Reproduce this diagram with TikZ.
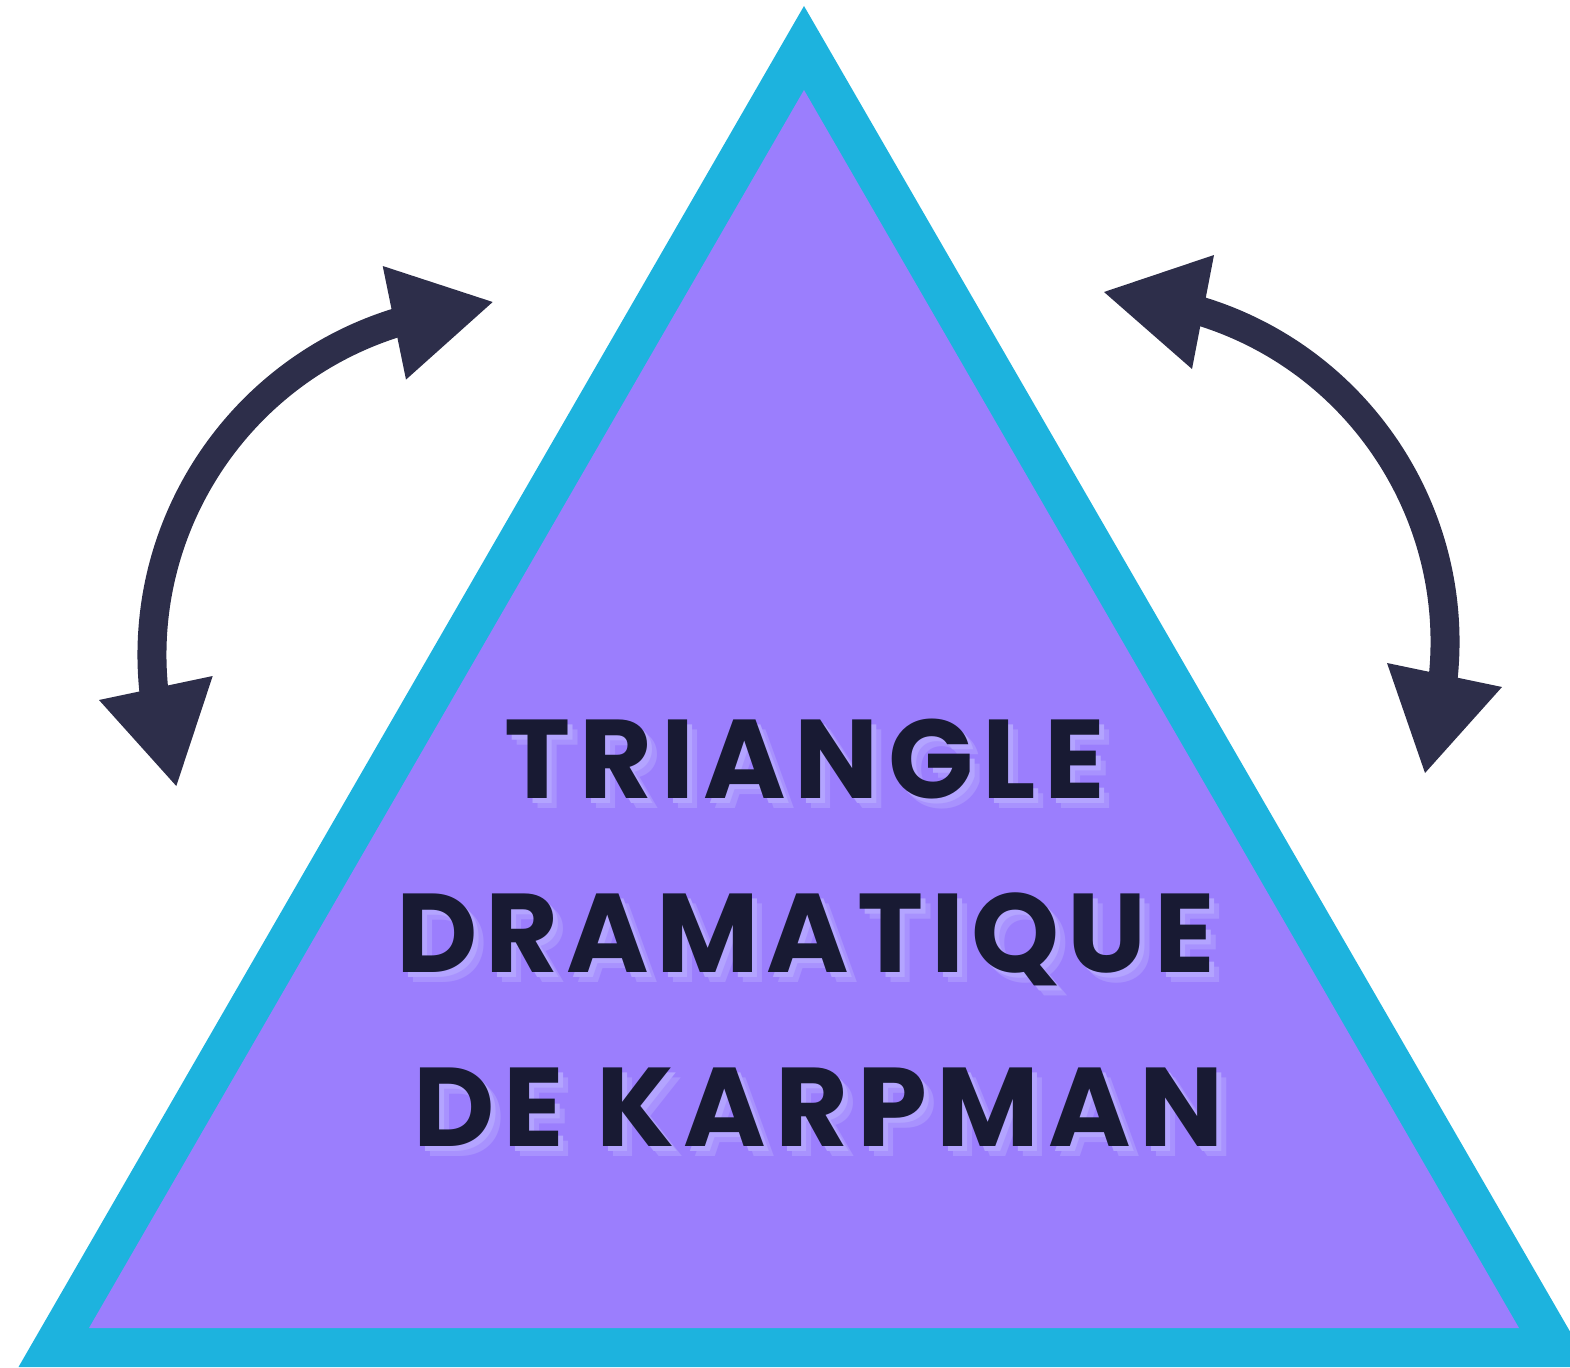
\documentclass[tikz,border=0pt]{standalone}
\usepackage{fontspec}
\setmainfont{Poppins}
\definecolor{triblue}{HTML}{1DB3DE}
\definecolor{tripurple}{HTML}{9B7EFD}
\definecolor{arrowc}{HTML}{2D2E4A}
\definecolor{textc}{HTML}{181A33}
\definecolor{shadowa}{HTML}{B3A4FF}
\definecolor{shadowb}{HTML}{A892FE}
\begin{document}
\begin{tikzpicture}[x=1pt,y=-1pt,
  arcline/.style={draw=arrowc,line width=29pt},
  arrowhead/.style={fill=arrowc},
  title/.style={inner sep=0pt,anchor=base west,
    font=\fontsize{112}{120}\selectfont\bfseries\addfontfeature{LetterSpace=#1}},
  titletext/.style={title=#1,text=textc},
  shadowone/.style={title=#1,text=shadowa},
  shadowtwo/.style={title=#1,text=shadowb}]
\useasboundingbox (0,0) rectangle (1570,1367);
\clip (0,0) rectangle (1570,1367);
% triangle
\fill[triblue] (804,6) -- (18.5,1367) -- (1590.5,1367) -- cycle;
\fill[tripurple] (804,90) -- (89,1328) -- (1519,1328) -- cycle;
% left double arrow
\draw[arcline] (500,655) ++(171:348) arc[start angle=171, end angle=256, radius=348];
\fill[arrowhead] (382.7,266) -- (492.7,302) -- (406,379.6) -- cycle;
\fill[arrowhead] (99,700) -- (212.7,676) -- (176.3,786) -- cycle;
% right double arrow
\draw[arcline] (1099,642) ++(284:346) arc[start angle=284, end angle=369, radius=346];
\fill[arrowhead] (1214,255) -- (1104,292) -- (1192,369) -- cycle;
\fill[arrowhead] (1387,663) -- (1502,687) -- (1425,773) -- cycle;
% title
\foreach \n/\t/\x/\y/\ls in {a/TRIANGLE/504/798/8, b/DRAMATIQUE/396/972/6.9, c/DE KARPMAN/413/1146/8}{
  \node[shadowtwo=\ls] (\n s2) at (\x+10,\y+10) {\t};
  \node[shadowone=\ls] (\n s1) at (\x+5,\y+5) {\t};
  \node[titletext=\ls] (\n) at (\x,\y) {\t};
}
\end{tikzpicture}
\end{document}
